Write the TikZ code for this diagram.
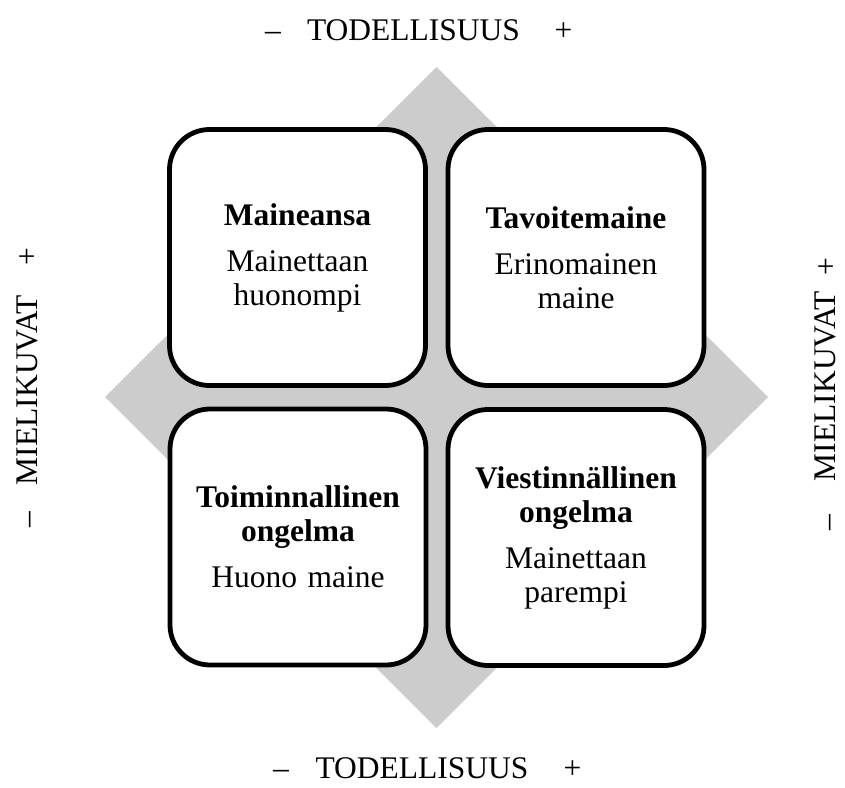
\documentclass[tikz,border=0pt]{standalone}
\usepackage{fontspec}
\setmainfont{Liberation Serif}
\begin{document}
\begin{tikzpicture}[x=1pt,y=-1pt,
  quad/.style={draw=black, line width=4.8pt, fill=white, rounded corners=40pt,
    minimum width=256pt, minimum height=256pt, inner sep=0pt,
    text width=250pt, align=center,
    font=\fontsize{31.5}{34}\selectfont},
  axislbl/.style={inner sep=0pt, anchor=base, font=\fontsize{31.5}{34}\selectfont},
  vaxislbl/.style={axislbl, rotate=90}
]
\useasboundingbox (0,0) rectangle (845,787);
\fill[fill={rgb,255:red,204;green,204;blue,204}] (436.5,67) -- (768,397) -- (436.5,728) -- (105,397) -- cycle;

\node[quad] (tl) at (297.5,257.5) {{\bfseries Maineansa}\\[12pt]Mainettaan\\huonompi};
\node[quad] (tr) at (576,257.5) {{\bfseries Tavoitemaine}\\[12pt]Erinomainen\\maine};
\node[quad] (bl) at (298,537) {{\bfseries Toiminnallinen\\ongelma}\\[12pt]Huono maine};
\node[quad] (br) at (576,537.5) {{\bfseries Viestinnällinen\\ongelma}\\[12pt]Mainettaan\\parempi};

% top
\node[axislbl] (tminus) at (273,40) {–};
\node[axislbl] (ttext) at (413.5,40) {TODELLISUUS};
\node[axislbl] (tplus) at (563.5,40) {+};
% bottom
\node[axislbl] (bminus) at (281,778) {–};
\node[axislbl] (btext) at (422,778) {TODELLISUUS};
\node[axislbl] (bplus) at (572.5,778) {+};
% left
\node[vaxislbl] (lplus) at (37,257) {+};
\node[vaxislbl] (ltext) at (37,390) {MIELIKUVAT};
\node[vaxislbl] (lminus) at (37,520) {–};
% right
\node[vaxislbl] (rplus) at (836,267) {+};
\node[vaxislbl] (rtext) at (835,386) {MIELIKUVAT};
\node[vaxislbl] (rminus) at (837,523) {–};
\end{tikzpicture}
\end{document}
